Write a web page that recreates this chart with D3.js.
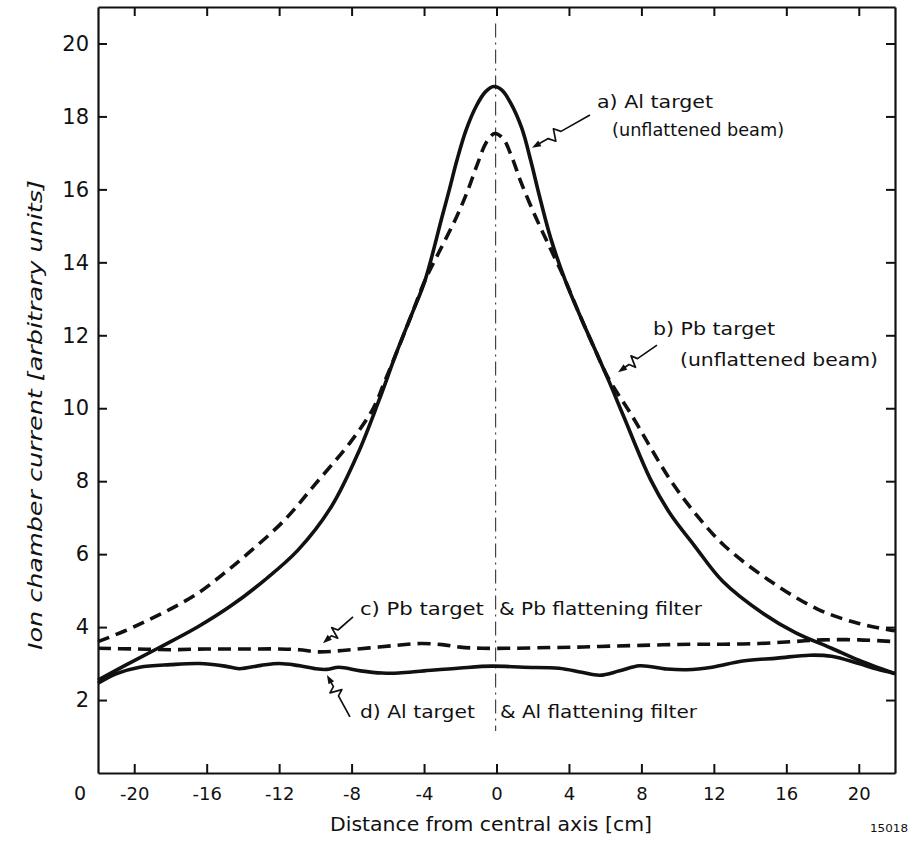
<!DOCTYPE html>
<html>
<head>
<meta charset="utf-8">
<script src="https://cdn.jsdelivr.net/npm/d3@7"></script>
<style>
  html, body { margin: 0; padding: 0; background: #fff; }
  svg { display: block; font-family: "DejaVu Sans", sans-serif; }
</style>
</head>
<body>
<svg id="chart" width="915" height="846"></svg>
<script>
// Axis ticks
const xTicks = [-20, -16, -12, -8, -4, 0, 4, 8, 12, 16, 20];
const yTicks = [2, 4, 6, 8, 10, 12, 14, 16, 18, 20];

// a) Al target, unflattened beam (distance in cm, ion chamber current)
const alUnflatX = [-22, -20.5, -18.69, -16.48, -14.64, -12.8, -10.96, -9.12, -7.65, -6.5, -5.5, -4.7, -3.95, -3.03, -2.6, -2.2, -1.7, -1.1, -0.6, -0.15, 0.3, 0.8, 1.4, 1.9, 2.35, 3.0, 3.8, 4.6, 5.4, 6.2, 7.0, 8.5, 9.6, 10.9, 12.5, 14.7, 16.5, 18.5, 20, 22];
const alUnflatY = [2.55, 2.95, 3.42, 4.01, 4.59, 5.29, 6.11, 7.3, 8.76, 10.2, 11.55, 12.55, 13.5, 15.2, 16.0, 16.77, 17.6, 18.3, 18.68, 18.82, 18.72, 18.35, 17.67, 16.77, 15.86, 14.65, 13.5, 12.55, 11.65, 10.75, 9.8, 8.05, 7.1, 6.25, 5.25, 4.38, 3.85, 3.42, 3.09, 2.72];

// b) Pb target, unflattened beam
const pbUnflatX = [-22, -20.5, -19.24, -17.9, -16.48, -15.1, -13.72, -11.69, -10.04, -8.02, -6.8, -6.2, -5.5, -4.7, -3.95, -3.0, -2.2, -1.6, -1.05, -0.55, -0.1, 0.35, 0.8, 1.35, 2.2, 3.0, 3.8, 4.6, 5.4, 6.2, 7.4, 9.6, 11, 12.54, 15, 17.69, 20, 22];
const pbUnflatY = [3.6, 3.9, 4.19, 4.52, 4.93, 5.45, 6.02, 6.94, 7.9, 9.1, 10.0, 10.7, 11.55, 12.55, 13.5, 14.45, 15.25, 15.95, 16.7, 17.3, 17.53, 17.4, 16.95, 16.2, 15.2, 14.35, 13.5, 12.55, 11.65, 10.8, 9.86, 8.03, 7.1, 6.25, 5.3, 4.5, 4.1, 3.9];

// c) Pb target & Pb flattening filter
const pbFlatX = [-22, -20, -18, -16, -14, -12, -10.9, -9.8, -8.5, -7, -5.5, -4.2, -3, -2, -0.8, 1, 3, 4.5, 5.7, 8, 10.8, 12.5, 14.5, 16.3, 18, 20, 22];
const pbFlatY = [3.42, 3.4, 3.38, 3.4, 3.4, 3.4, 3.38, 3.32, 3.36, 3.43, 3.5, 3.55, 3.52, 3.45, 3.42, 3.42, 3.44, 3.45, 3.47, 3.5, 3.53, 3.53, 3.55, 3.6, 3.65, 3.65, 3.6];

// d) Al target & Al flattening filter
const alFlatX = [-22, -21, -19.7, -18, -16.4, -15, -14.2, -13, -12, -11, -10, -9.4, -8.7, -7.5, -6.3, -5.4, -4, -2, -0.25, 1.5, 3.45, 4.7, 5.7, 6.8, 7.9, 9.4, 10.5, 11.9, 13.6, 15.5, 17.3, 18.5, 20, 21, 22];
const alFlatY = [2.46, 2.72, 2.9, 2.97, 3.0, 2.93, 2.86, 2.95, 3.0, 2.95, 2.86, 2.84, 2.9, 2.8, 2.74, 2.74, 2.8, 2.88, 2.93, 2.9, 2.87, 2.76, 2.68, 2.8, 2.94, 2.85, 2.83, 2.9, 3.07, 3.15, 3.23, 3.2, 3.0, 2.85, 2.73];

// Curve labels: text, anchor (cm, current), drawn width
const labelText = ["a) Al target", "(unflattened beam)", "b) Pb target", "(unflattened beam)",
                   "c) Pb target", "& Pb flattening filter", "d) Al target", "& Al flattening filter"];
const labelX = [5.55, 6.38, 8.64, 10.13, -7.54, 0.14, -7.54, 0.19];
const labelY = [18.23, 17.46, 12.01, 11.16, 4.33, 4.33, 1.51, 1.51];
const labelW = [116, 172, 122, 198, 124, 203, 115, 197];

// Leader squiggles from each label to its curve: start and end (cm, current)
const leaderStartX = [5.16, 8.86, -7.92, -8.09];
const leaderStartY = [18.04, 11.73, 4.28, 1.54];
const leaderEndX = [1.96, 6.71, -9.58, -9.36];
const leaderEndY = [17.14, 10.99, 3.56, 2.69];

const svg = d3.select("#chart");
const plotLeft = 98, plotRight = 895, plotTop = 7, plotBottom = 773;

const x = d3.scaleLinear().domain([-22, 22]).range([plotLeft, plotRight]);
const y = d3.scaleLinear().domain([0, 21]).range([plotBottom, plotTop]);

const ink = "#111";

// Frame with inward ticks on all four sides
const axB = svg.append("g").attr("transform", `translate(0,${plotBottom})`)
  .call(d3.axisBottom(x).tickValues(xTicks).tickSizeInner(-9).tickSizeOuter(0).tickPadding(14)
    .tickFormat(d => d));
const axT = svg.append("g").attr("transform", `translate(0,${plotTop})`)
  .call(d3.axisTop(x).tickValues(xTicks).tickSizeInner(-9).tickSizeOuter(0).tickFormat(""));
const axL = svg.append("g").attr("transform", `translate(${plotLeft},0)`)
  .call(d3.axisLeft(y).tickValues(yTicks).tickSizeInner(-9).tickSizeOuter(0).tickPadding(9));
const axR = svg.append("g").attr("transform", `translate(${plotRight},0)`)
  .call(d3.axisRight(y).tickValues(yTicks).tickSizeInner(-9).tickSizeOuter(0).tickFormat(""));

[axB, axT, axL, axR].forEach(g => {
  g.select(".domain").attr("stroke", ink).attr("stroke-width", 2.2);
  g.selectAll(".tick line").attr("stroke", ink).attr("stroke-width", 2);
  g.selectAll("text").attr("fill", ink).attr("font-family", "DejaVu Sans, sans-serif");
});
axB.selectAll("text").attr("font-size", 18);
axL.selectAll("text").attr("font-size", 21);

// Origin label
svg.append("text")
  .attr("x", plotLeft - 18).attr("y", plotBottom + 27)
  .attr("text-anchor", "middle")
  .attr("font-size", 19).attr("fill", ink)
  .text("0");

// Central axis (dash-dot)
svg.append("line")
  .attr("x1", x(-0.05)).attr("x2", x(-0.05))
  .attr("y1", y(20.55)).attr("y2", y(1.15))
  .attr("stroke", "#444").attr("stroke-width", 1.2)
  .attr("stroke-dasharray", "14,5,2,5");

// Profiles
const line = d3.line().x(d => x(d[0])).y(d => y(d[1])).curve(d3.curveCatmullRom.alpha(0.5));
const series = [
  { xs: alUnflatX, ys: alUnflatY, dash: null },
  { xs: pbUnflatX, ys: pbUnflatY, dash: "12,7" },
  { xs: pbFlatX, ys: pbFlatY, dash: "13,7" },
  { xs: alFlatX, ys: alFlatY, dash: null }
];
series.forEach(s => {
  svg.append("path")
    .datum(d3.zip(s.xs, s.ys))
    .attr("d", line)
    .attr("fill", "none")
    .attr("stroke", ink)
    .attr("stroke-width", 3.6)
    .attr("stroke-linejoin", "round")
    .attr("stroke-dasharray", s.dash);
});

// Leader squiggles with small arrowheads
const squiggle = [[0, 0], [0.5, 0], [0.58, 6], [0.64, -6], [0.72, 0], [1, 0]];
leaderStartX.forEach((_, i) => {
  const sx = x(leaderStartX[i]), sy = y(leaderStartY[i]);
  const ex = x(leaderEndX[i]), ey = y(leaderEndY[i]);
  const len = Math.hypot(ex - sx, ey - sy);
  const ux = (ex - sx) / len, uy = (ey - sy) / len;
  const nx = -uy, ny = ux;
  const pts = squiggle.map(([t, w]) => [sx + ux * len * t + nx * w, sy + uy * len * t + ny * w]);
  svg.append("path")
    .attr("d", d3.line()(pts.slice(0, -1).concat([[ex - ux * 6, ey - uy * 6]])))
    .attr("fill", "none").attr("stroke", ink).attr("stroke-width", 1.7)
    .attr("stroke-linejoin", "round");
  const head = [[ex, ey], [ex - ux * 9 + nx * 3.2, ey - uy * 9 + ny * 3.2], [ex - ux * 9 - nx * 3.2, ey - uy * 9 - ny * 3.2]];
  svg.append("path").attr("d", d3.line()(head) + "Z").attr("fill", ink);
});

// Curve labels
labelText.forEach((t, i) => {
  svg.append("text")
    .attr("x", x(labelX[i])).attr("y", y(labelY[i]))
    .attr("font-size", 18).attr("fill", ink)
    .attr("textLength", labelW[i]).attr("lengthAdjust", "spacingAndGlyphs")
    .text(t);
});

// Axis titles
svg.append("text")
  .attr("x", 491).attr("y", 831)
  .attr("text-anchor", "middle")
  .attr("font-size", 19).attr("fill", ink)
  .attr("textLength", 322).attr("lengthAdjust", "spacingAndGlyphs")
  .text("Distance from central axis [cm]");

svg.append("text")
  .attr("transform", "translate(42,415) rotate(-90)")
  .attr("text-anchor", "middle")
  .attr("font-size", 20).attr("font-style", "italic").attr("fill", ink)
  .attr("textLength", 470).attr("lengthAdjust", "spacingAndGlyphs")
  .text("Ion chamber current [arbitrary units]");

// Figure number
svg.append("text")
  .attr("x", 870).attr("y", 832)
  .attr("font-size", 11).attr("fill", ink)
  .attr("textLength", 38).attr("lengthAdjust", "spacingAndGlyphs")
  .text("15018");
</script>
</body>
</html>
